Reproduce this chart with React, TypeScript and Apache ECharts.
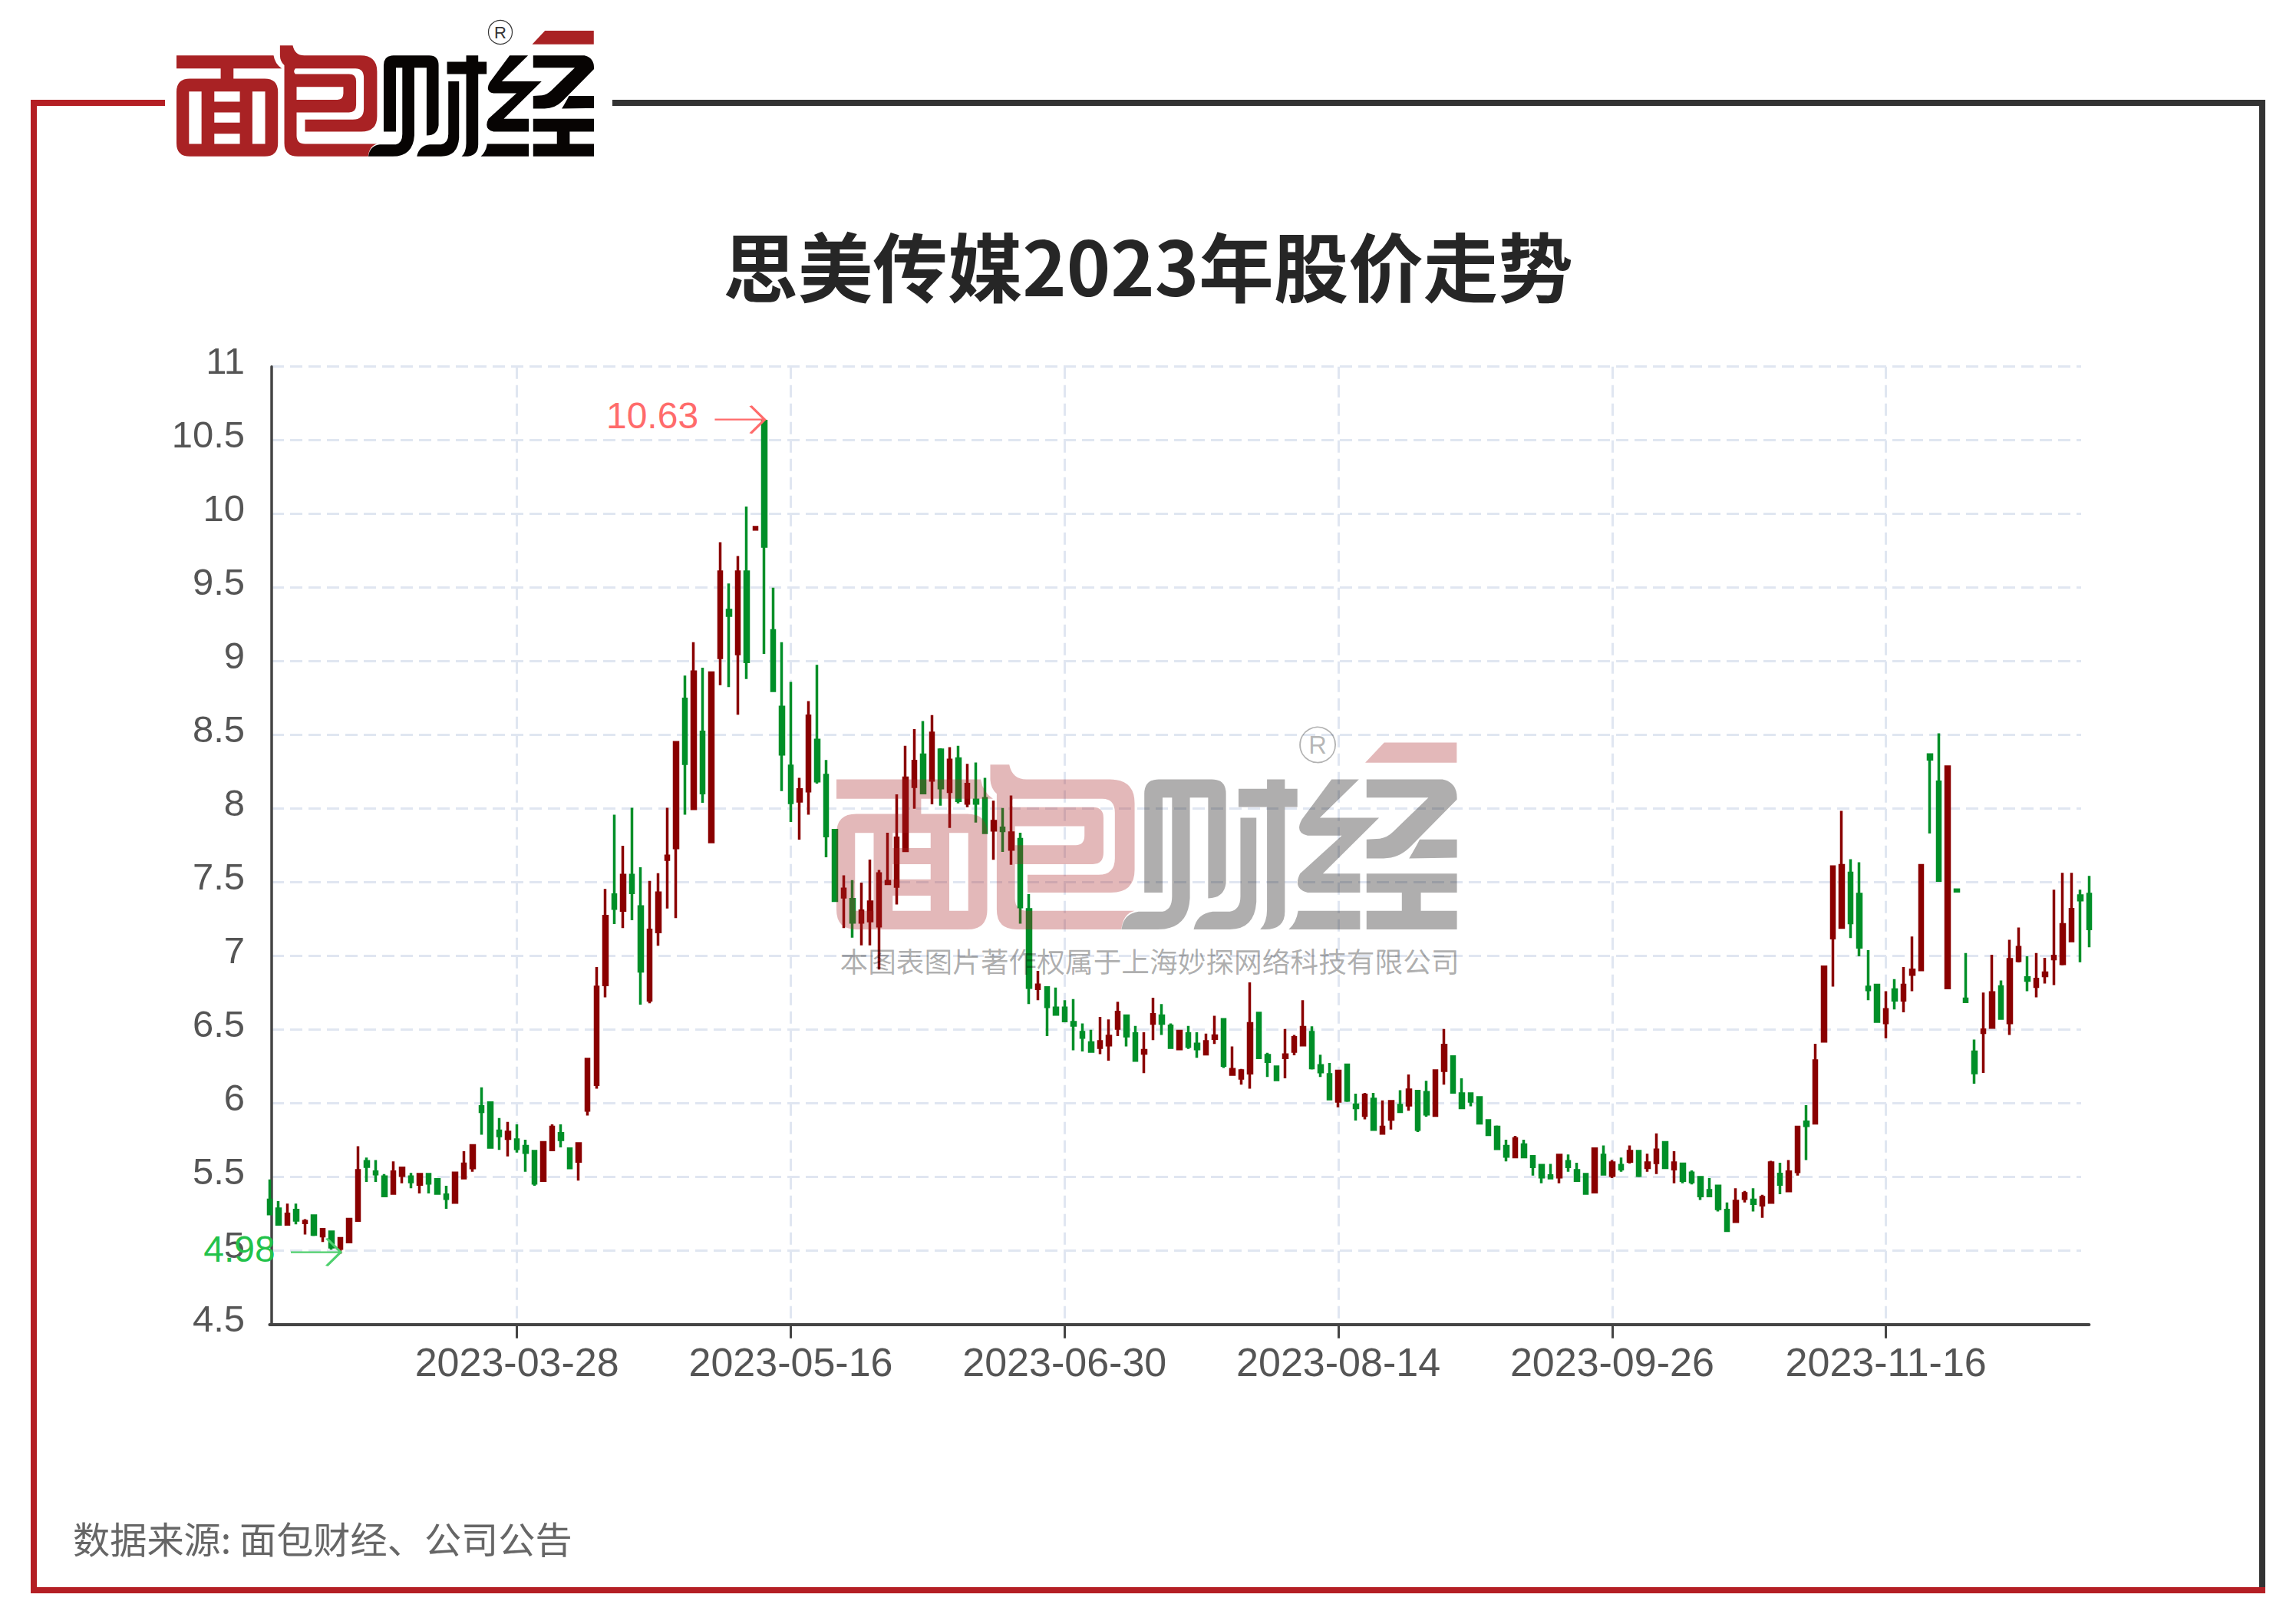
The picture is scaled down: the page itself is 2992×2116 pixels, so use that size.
import React, { useEffect, useRef } from "react";
import * as echarts from "echarts";

// [open, close, low, high] per trading day
const candlesFeb = [
  [5.345,5.25,5.241,5.484],[5.285,5.18,5.18,5.337],[5.18,5.25,5.18,5.32],[5.276,5.207,5.18,5.32],[5.19,5.2,5.11,5.215],
  [5.238,5.11,5.1,5.238],[5.1,5.146,5.06,5.155],[5.128,5.025,5.007,5.128],[5.015,5.085,4.98,5.094],
];
const candlesMar = [
  [5.06,5.215,5.06,5.215],[5.206,5.545,5.2,5.71],[5.606,5.571,5.467,5.632],[5.536,5.52,5.467,5.615],[5.502,5.372,5.372,5.52],
  [5.389,5.536,5.38,5.606],[5.51,5.562,5.458,5.571],[5.502,5.467,5.424,5.528],[5.45,5.519,5.389,5.528],[5.519,5.458,5.389,5.528],
  [5.484,5.389,5.38,5.49],[5.38,5.354,5.285,5.441],[5.328,5.528,5.328,5.536],[5.493,5.589,5.493,5.675],[5.562,5.714,5.536,5.714],
  [5.979,5.944,5.788,6.109],[6.005,5.701,5.693,6.005],[5.814,5.78,5.684,5.901],[5.762,5.806,5.641,5.875],[5.753,5.693,5.667,5.858],
  [5.71,5.667,5.536,5.753],[5.675,5.458,5.441,5.684],[5.476,5.736,5.476,5.736],
];
const candlesApr = [
  [5.684,5.84,5.675,5.858],[5.797,5.753,5.701,5.858],[5.693,5.562,5.562,5.693],[5.606,5.727,5.476,5.736],[5.953,6.3,5.918,6.3],
  [6.127,6.79,6.1,6.925],[6.805,7.27,6.72,7.456],[7.416,7.323,7.217,7.96],[7.31,7.549,7.19,7.748],[7.549,7.43,7.243,8.006],
  [7.336,6.897,6.67,7.602],[6.7,7.177,6.68,7.51],[7.164,7.43,7.07,7.562],[7.655,7.68,7.323,8.006],[7.734,8.45,7.257,8.45],
  [8.745,8.306,7.96,8.904],[8.0,8.93,8.0,9.13],[8.52,8.107,8.04,8.957],[7.775,8.923,7.775,8.923],
];
const candlesMay = [
  [9.024,9.608,8.838,9.808],[9.348,9.311,8.825,9.528],[9.05,9.608,8.638,9.714],[9.608,8.997,8.88,10.05],[9.895,9.91,9.89,9.915],
  [10.63,9.78,9.05,10.63],[9.21,8.8,8.8,9.5],[8.69,8.37,8.12,9.13],[8.29,8.04,7.91,8.86],[8.05,8.13,7.79,8.21],
  [8.12,8.63,7.96,8.73],[8.466,8.187,8.17,8.976],[8.227,7.815,7.67,8.33],[7.854,7.376,7.376,7.854],[7.4,7.456,7.19,7.548],
  [7.385,7.229,7.125,7.516],[7.229,7.307,7.073,7.498],[7.238,7.368,7.073,7.655],[7.203,7.559,6.908,7.585],[7.49,7.507,7.49,7.837],
];
const candlesJun = [
  [7.472,7.802,7.35,8.097],[7.715,8.21,7.715,8.427],[8.15,8.323,8.0,8.54],[8.366,8.106,8.097,8.595],[8.193,8.514,8.03,8.635],
  [8.4,8.14,8.02,8.41],[8.115,8.33,7.87,8.418],[8.34,8.054,8.036,8.427],[8.036,8.166,8.01,8.305],[8.06,8.036,7.906,8.314],
  [8.07,7.837,7.828,8.21],[7.854,7.915,7.654,8.054],[7.87,7.85,7.707,8.005],[7.724,7.837,7.62,8.089],[7.793,7.333,7.22,7.837],
  [7.316,6.786,6.674,7.42],[6.778,6.804,6.7,6.9],[6.786,6.656,6.457,6.786],[6.648,6.604,6.604,6.786],[6.648,6.56,6.55,6.7],
];
const candlesJul = [
  [6.55,6.53,6.36,6.708],[6.483,6.448,6.352,6.543],[6.413,6.352,6.344,6.5],[6.378,6.42,6.335,6.587],[6.396,6.457,6.29,6.57],
  [6.509,6.62,6.457,6.69],[6.595,6.457,6.387,6.604],[6.474,6.292,6.283,6.526],[6.34,6.36,6.205,6.483],[6.543,6.604,6.43,6.717],
  [6.595,6.543,6.465,6.674],[6.526,6.378,6.37,6.543],[6.37,6.49,6.36,6.5],[6.474,6.387,6.37,6.526],[6.404,6.37,6.31,6.483],
  [6.335,6.42,6.326,6.474],[6.44,6.46,6.404,6.595],[6.57,6.257,6.24,6.57],[6.196,6.231,6.196,6.387],[6.17,6.222,6.127,6.234],
  [6.205,6.543,6.1,6.821],
];
const candlesAug = [
  [6.613,6.31,6.31,6.62],[6.326,6.283,6.18,6.344],[6.248,6.16,6.153,6.257],[6.31,6.33,6.17,6.505],[6.352,6.448,6.326,6.465],
  [6.396,6.517,6.387,6.7],[6.483,6.24,6.23,6.523],[6.257,6.213,6.18,6.33],[6.196,6.03,6.03,6.274],[6.014,6.22,5.974,6.22],
  [6.262,6.02,6.01,6.262],[5.99,5.97,5.884,6.066],[5.918,6.057,5.892,6.071],[6.03,5.823,5.823,6.071],[5.797,5.84,5.788,6.02],
  [5.892,6.014,5.823,6.02],[5.988,5.944,5.936,6.09],[5.988,6.092,5.95,6.196],[6.083,5.823,5.806,6.083],[6.075,5.927,5.91,6.153],
  [5.918,6.222,5.91,6.23],[6.222,6.396,6.127,6.505],[6.318,6.075,6.075,6.318],
];
const candlesSep = [
  [6.066,5.97,5.97,6.17],[6.066,6.014,5.98,6.066],[6.04,5.866,5.866,6.045],[5.884,5.788,5.78,5.892],[5.84,5.693,5.684,5.85],
  [5.71,5.64,5.606,5.753],[5.637,5.762,5.637,5.78],[5.72,5.637,5.637,5.753],[5.64,5.57,5.51,5.65],[5.58,5.5,5.458,5.589],
  [5.51,5.493,5.493,5.589],[5.5,5.65,5.458,5.658],[5.606,5.57,5.536,5.654],[5.545,5.476,5.476,5.597],[5.519,5.389,5.38,5.519],
  [5.398,5.693,5.39,5.693],[5.65,5.519,5.51,5.714],[5.51,5.597,5.493,5.615],[5.58,5.554,5.536,5.632],[5.606,5.675,5.592,5.714],
];
const candlesOct = [
  [5.675,5.51,5.5,5.68],[5.563,5.597,5.536,5.658],[5.597,5.684,5.52,5.797],[5.736,5.563,5.554,5.736],[5.554,5.597,5.458,5.675],
  [5.589,5.476,5.458,5.589],[5.528,5.467,5.45,5.545],[5.498,5.372,5.345,5.5],[5.41,5.372,5.363,5.493],[5.44,5.285,5.267,5.44],
  [5.276,5.137,5.128,5.328],[5.198,5.337,5.198,5.424],[5.354,5.389,5.328,5.406],[5.345,5.32,5.267,5.424],[5.31,5.363,5.224,5.38],
  [5.328,5.597,5.32,5.61],[5.52,5.45,5.384,5.597],
];
const candlesNov = [
  [5.406,5.536,5.406,5.615],[5.536,5.84,5.51,5.84],[5.875,5.849,5.615,5.988],[5.866,6.29,5.866,6.405],[6.422,6.927,6.42,6.93],
  [7.122,7.606,6.793,7.606],[7.194,7.616,7.184,7.986],[7.564,7.225,7.122,7.657],[7.42,7.06,6.999,7.636],[6.79,6.77,6.7,7.04],
  [6.803,6.556,6.556,6.803],[6.546,6.638,6.443,6.762],[6.772,6.7,6.638,6.844],[6.7,6.803,6.618,6.926],[6.875,6.906,6.762,7.132],
  [6.906,7.616,6.906,7.616],[8.367,8.336,7.832,8.367],[8.182,7.513,7.513,8.511],[6.783,8.285,6.783,8.285],[7.45,7.44,7.44,7.45],
  [6.71,6.69,6.69,7.02],[6.35,6.207,6.134,6.433],
];
const candlesDec = [
  [6.48,6.5,6.207,6.752],[6.515,6.752,6.515,7.009],[6.793,6.577,6.577,6.834],[6.546,6.978,6.464,7.11],[6.968,7.06,6.957,7.194],
  [6.854,6.834,6.762,6.999],[6.793,6.844,6.72,7.02],[6.865,6.886,6.813,6.988],[6.98,7.0,6.803,7.45],[6.948,7.215,6.937,7.565],
  [7.102,7.318,7.1,7.565],[7.41,7.38,6.958,7.45],[7.42,7.184,7.06,7.544],
];

const daysFeb = [16,17,20,21,22,23,24,27,28];
const daysMar = [1,2,3,6,7,8,9,10,13,14,15,16,17,20,21,22,23,24,27,28,29,30,31];
const daysApr = [3,4,6,7,10,11,12,13,14,17,18,19,20,21,24,25,26,27,28];
const daysMay = [4,5,8,9,10,11,12,15,16,17,18,19,22,23,24,25,26,29,30,31];
const daysJun = [1,2,5,6,7,8,9,12,13,14,15,16,19,20,21,26,27,28,29,30];
const daysJul = [3,4,5,6,7,10,11,12,13,14,17,18,19,20,21,24,25,26,27,28,31];
const daysAug = [1,2,3,4,7,8,9,10,11,14,15,16,17,18,21,22,23,24,25,28,29,30,31];
const daysSep = [1,4,5,6,7,8,11,12,13,14,15,18,19,20,21,22,25,26,27,28];
const daysOct = [9,10,11,12,13,16,17,18,19,20,23,24,25,26,27,30,31];
const daysNov = [1,2,3,6,7,8,9,10,13,14,15,16,17,20,21,22,23,24,27,28,29,30];
const daysDec = [1,4,5,6,7,8,11,12,13,14,15,18,19];

const monthDays: [string, number[]][] = [
  ["02", daysFeb],["03", daysMar],["04", daysApr],["05", daysMay],["06", daysJun],["07", daysJul],
  ["08", daysAug],["09", daysSep],["10", daysOct],["11", daysNov],["12", daysDec],
];
const dates = monthDays.flatMap(([m, ds]) => ds.map((d) => `2023-${m}-${String(d).padStart(2, "0")}`));
const candles = [
  ...candlesFeb,...candlesMar,...candlesApr,...candlesMay,...candlesJun,...candlesJul,
  ...candlesAug,...candlesSep,...candlesOct,...candlesNov,...candlesDec,
];
const maxPoint = { date: "2023-05-11", value: 10.63, text: "10.63" };
const minPoint = { date: "2023-02-28", value: 4.98, text: "4.98" };
const firstTickIndex = dates.indexOf("2023-03-28");
const tickStep = 31;
const isTick = (i: number) => i >= firstTickIndex && (i - firstTickIndex) % tickStep === 0;

const titleText = "思美传媒2023年股价走势";
const sourceText = "数据来源: 面包财经、公司公告";
const watermarkText = "本图表图片著作权属于上海妙探网络科技有限公司";

const redLogo =
  "M15 127 L395 127 Q400 160 427 178 L238 178 L238 218 L360 218 Q412 218 412 270 L412 470 Q412 522 360 522 L67 522 Q15 522 15 470 L15 270 Q15 218 67 218 L188 218 L188 178 L15 178 Z " +
  "M64 268 L64 473 L113 473 L113 268 Z M312 268 L312 473 L362 473 L362 268 Z " +
  "M163 268 L163 308 L263 308 L263 268 Z M163 350 L163 390 L263 390 L263 350 Z M163 433 L163 473 L263 473 L263 433 Z " +
  "M420 88 L470 88 Q478 127 515 127 L735 127 Q800 127 800 190 L800 365 Q800 425 738 425 L518 425 L518 378 L705 378 Q748 378 748 335 L748 215 Q748 178 715 178 L480 178 Q470 190 480 200 L690 200 Q718 200 718 228 L718 320 Q718 350 690 350 L485 350 L485 440 Q485 473 518 473 L800 473 Q770 480 765 522 L490 522 Q437 522 437 470 L437 165 Q420 150 420 125 Z " +
  "M485 250 L485 300 L645 300 Q668 300 668 275 L668 250 Z " +
  "M1457 30 L1648 30 L1648 83 L1407 83 Z";
const blackLogo =
  "M60 455 L60 195 Q60 157 98 157 L238 157 Q275 157 275 195 L275 430 Q270 470 228 470 L228 205 L180 205 L180 470 Q175 552 95 552 L0 552 Q5 510 45 505 L108 505 Q133 500 133 465 L133 205 L108 205 L108 455 Z " +
  "M383 157 L430 157 L430 182 L463 182 L463 230 L430 230 L430 505 Q430 552 378 552 L365 552 Q383 535 383 500 L383 230 L308 230 L308 182 L383 182 Z " +
  "M313 258 L355 258 L355 480 Q350 552 285 552 L190 552 Q198 510 240 505 L285 505 Q313 500 313 465 Z " +
  "M553 157 L625 157 L522 258 L678 258 L530 405 L628 405 L628 455 L490 455 Q450 445 470 405 L580 305 L490 305 Q455 298 475 262 Z " +
  "M465 503 L628 503 L628 552 L440 552 Q460 535 465 503 Z " +
  "M645 157 L845 157 Q885 165 883 210 L760 335 Q730 365 690 365 L645 365 L645 315 L680 313 Q700 310 715 295 L808 205 L645 205 Z " +
  "M757 365 Q775 335 785 315 L883 315 L883 363 Z " +
  "M645 405 L883 405 L883 455 L788 455 L788 503 L883 503 L883 552 L645 552 L645 503 L738 503 L738 455 L645 455 Z";

echarts.graphic.registerShape("logoRed", echarts.graphic.extendPath(redLogo, {}));
echarts.graphic.registerShape("logoBlack", echarts.graphic.extendPath(blackLogo, {}));

const logoGroup = (x: number, y: number, s: number, opacity: number, z: number, ringColor: string) => ({
  type: "group",
  x,
  y,
  scaleX: s,
  scaleY: s,
  children: [
    { type: "logoRed", x: -5, y: -9, scaleX: 1 / 3, scaleY: 1 / 3, z, style: { fill: "#A92224", opacity } },
    { type: "logoBlack", x: 250, y: -19, scaleX: 1 / 3, scaleY: 1 / 3, z, style: { fill: "#070403", opacity } },
    { type: "circle", shape: { cx: 422, cy: 3, r: 15.5 }, z, style: { fill: "none", stroke: ringColor, lineWidth: 1.2 } },
    {
      type: "text", x: 422, y: 3, z,
      style: { text: "R", fill: ringColor, font: '22px "Liberation Sans"', align: "center", verticalAlign: "middle" },
    },
  ],
});

export default function App() {
  const ref = useRef<HTMLDivElement>(null);
  useEffect(() => {
    document.body.style.margin = "0";
    const chart = echarts.init(ref.current!, undefined, { renderer: "svg" });
    const gridTop = 477.7;
    const gridHeight = 1248;
    const axisColor = "#444";
    const labelColor = "#555";
    const dash = { color: "#E0E6F1", width: 3, type: [16, 8] };
    chart.setOption({
      animation: false,
      backgroundColor: "#fff",
      title: {
        text: titleText,
        left: "center",
        top: 290,
        textStyle: { fontFamily: "Noto Sans CJK SC", fontSize: 97.5, fontWeight: "bold", color: "#262626" },
      },
      grid: [
        { left: 351.4, width: 2371, top: gridTop, height: gridHeight },
        { left: 354, width: 2358, top: gridTop, height: gridHeight },
      ],
      xAxis: [
        {
          type: "category",
          gridIndex: 0,
          data: dates,
          boundaryGap: false,
          axisLine: { lineStyle: { color: axisColor, width: 4 } },
          axisTick: { interval: (i: number) => isTick(i), length: 18, lineStyle: { color: axisColor, width: 3 } },
          axisLabel: {
            interval: (i: number) => isTick(i),
            color: labelColor,
            fontFamily: "Liberation Sans",
            fontSize: 52,
            margin: 23,
          },
          splitLine: { show: true, interval: (i: number) => isTick(i), lineStyle: dash },
        },
        { type: "value", gridIndex: 1, min: 0, max: 1, show: false },
      ],
      yAxis: [
        { type: "value", gridIndex: 0, min: 4.5, max: 11, interval: 0.5, show: false, splitLine: { show: false } },
        {
          type: "value",
          gridIndex: 1,
          min: 4.5,
          max: 11,
          interval: 0.5,
          axisLine: { show: true, lineStyle: { color: axisColor, width: 3.5 } },
          axisTick: { show: false },
          axisLabel: {
            color: labelColor,
            fontFamily: "Liberation Sans",
            fontSize: 49,
            margin: 35,
            verticalAlign: "bottom",
            lineHeight: 15,
          },
          splitLine: { show: true, lineStyle: dash },
        },
      ],
      series: [
        {
          type: "candlestick",
          xAxisIndex: 0,
          yAxisIndex: 0,
          data: candles,
          clip: false,
          barWidth: 5,
          itemStyle: {
            color: "#8A0000",
            color0: "#008F28",
            borderColor: "#8A0000",
            borderColor0: "#008F28",
            borderWidth: 3.5,
          },
          markPoint: {
            silent: true,
            data: [
              {
                coord: [maxPoint.date, maxPoint.value],
                symbol: "path://M0,18 L64,18 M46,0 L64,18 L46,36",
                symbolSize: [65, 36],
                symbolOffset: [-32, -2],
                itemStyle: { color: "none", borderColor: "#FF6B6B", borderWidth: 3 },
                label: {
                  show: true,
                  position: "left",
                  distance: 18,
                  offset: [0, -5],
                  formatter: maxPoint.text,
                  color: "#FF6B6B",
                  fontFamily: "Liberation Sans",
                  fontSize: 48,
                },
              },
              {
                coord: [minPoint.date, minPoint.value],
                symbol: "path://M0,18 L64,18 M46,0 L64,18 L46,36",
                symbolSize: [65, 36],
                symbolOffset: [-32, -2],
                itemStyle: { color: "none", borderColor: "#4FD06E", borderWidth: 3 },
                label: {
                  show: true,
                  position: "left",
                  distance: 17,
                  offset: [0, -4],
                  formatter: minPoint.text,
                  color: "#22C24A",
                  fontFamily: "Liberation Sans",
                  fontSize: 48,
                },
              },
            ],
          },
        },
      ],
      graphic: [
        // frame
        { type: "rect", shape: { x: 40, y: 130, width: 175, height: 8 }, style: { fill: "#B41F24" } },
        { type: "rect", shape: { x: 40, y: 130, width: 8, height: 1946 }, style: { fill: "#B41F24" } },
        { type: "rect", shape: { x: 798, y: 130, width: 2154, height: 8 }, style: { fill: "#333333" } },
        { type: "rect", shape: { x: 2944, y: 130, width: 8, height: 1946 }, style: { fill: "#333333" } },
        { type: "rect", shape: { x: 40, y: 2068, width: 2912, height: 8 }, style: { fill: "#B41F24" } },
        logoGroup(230, 39, 1, 1, 1, "#333"),
        logoGroup(1090, 966, 1.486, 0.32, 100, "rgba(0,0,0,0.3)"),
        {
          type: "text",
          x: 1498,
          y: 1251,
          z: 100,
          style: {
            text: watermarkText,
            fill: "rgba(0,0,0,0.33)",
            font: '36.7px "Noto Sans CJK SC"',
            align: "center",
            verticalAlign: "middle",
          },
        },
        {
          type: "text",
          x: 95,
          y: 2003,
          style: {
            text: sourceText,
            fill: "#666",
            font: '48.2px "Noto Sans CJK SC"',
            align: "left",
            verticalAlign: "middle",
          },
        },
      ],
    });
    return () => chart.dispose();
  }, []);
  return <div ref={ref} style={{ position: "fixed", left: 0, top: 0, width: 2992, height: 2116 }} />;
}
